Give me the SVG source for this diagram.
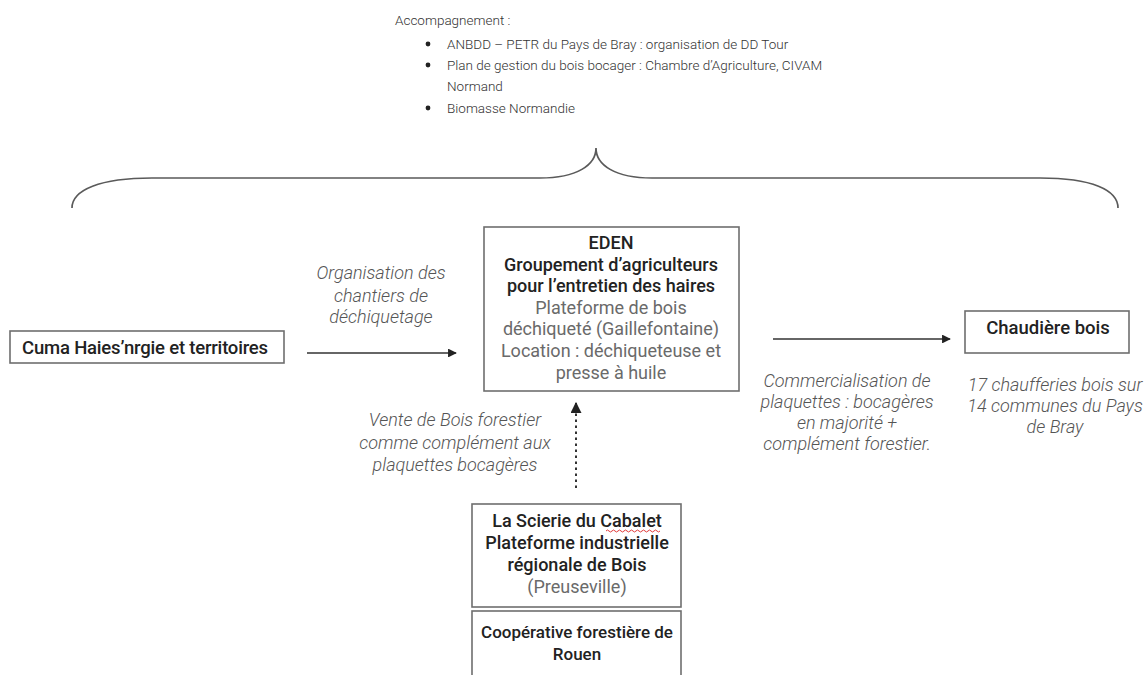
<svg xmlns="http://www.w3.org/2000/svg" width="1147" height="675" viewBox="0 0 1147 675">
  <style>
    text { font-family: Roboto, "Liberation Sans", sans-serif; }
    .box { fill: #ffffff; stroke: #6e6e6e; stroke-width: 1.6; }
    .strong { font-size: 18px; font-weight: 500; fill: #222222; text-anchor: middle; }
    .plain { font-size: 18px; font-weight: 400; fill: #6a6a6a; text-anchor: middle; }
    .note { font-size: 18px; font-weight: 300; font-style: italic; fill: #555555; text-anchor: middle; }
    .top { font-size: 13.5px; font-weight: 300; fill: #333333; }
    .link { fill: none; stroke: #333333; stroke-width: 1.6; }
    .dotted { stroke-dasharray: 2.5 3.5; stroke-width: 2; }
    .brace { fill: none; stroke: #5a5a5a; stroke-width: 1.7; }
  </style>
  <defs>
    <marker id="arrow" viewBox="0 0 10 10" refX="9" refY="5" markerWidth="5.5" markerHeight="5.5" orient="auto" markerUnits="strokeWidth">
      <path d="M0,0 L10,5 L0,10 z" fill="#222222"/>
    </marker>
  </defs>
  <rect width="1147" height="675" fill="#ffffff"/>

  <!-- support partners list -->
  <g id="accompagnement">
    <text class="top" x="395" y="25">Accompagnement :</text>
    <circle cx="428" cy="44" r="2.4" fill="#222222"/>
    <circle cx="428" cy="65" r="2.4" fill="#222222"/>
    <circle cx="428" cy="108" r="2.4" fill="#222222"/>
    <text class="top" x="447" y="49">ANBDD – PETR du Pays de Bray : organisation de DD Tour</text>
    <text class="top" x="447" y="70">Plan de gestion du bois bocager : Chambre d’Agriculture, CIVAM</text>
    <text class="top" x="447" y="91">Normand</text>
    <text class="top" x="447" y="113">Biomasse Normandie</text>
  </g>

  <!-- curly brace spanning the chain -->
  <path class="brace" d="M72,208 C72,190 100,178 152,178 L540,178 C577,178 596,165 596,148 C596,165 615,178 652,178 L1040,178 C1092,178 1118,190 1118,208"/>

  <g id="cuma">
    <rect class="box" x="10" y="331" width="274" height="32"/>
    <text class="strong" x="145" y="354" style="font-size:18.5px; letter-spacing:-0.2px">Cuma Haies’nrgie et territoires</text>
  </g>

  <g id="eden">
    <rect class="box" x="484" y="227" width="255" height="164"/>
    <text class="strong" x="611" y="249">EDEN</text>
    <text class="strong" x="611" y="271">Groupement d’agriculteurs</text>
    <text class="strong" x="611" y="292">pour l’entretien des haires</text>
    <text class="plain" x="611" y="314">Plateforme de bois</text>
    <text class="plain" x="611" y="335">déchiqueté (Gaillefontaine)</text>
    <text class="plain" x="611" y="357">Location : déchiqueteuse et</text>
    <text class="plain" x="611" y="379">presse à huile</text>
  </g>

  <g id="chaudiere">
    <rect class="box" x="965" y="311" width="164" height="42"/>
    <text class="strong" x="1048" y="334" style="font-size:18.5px">Chaudière bois</text>
    <text class="note" x="1055" y="391">17 chaufferies bois sur</text>
    <text class="note" x="1055" y="412">14 communes du Pays</text>
    <text class="note" x="1055" y="433">de Bray</text>
  </g>

  <g id="scierie">
    <rect class="box" x="472" y="504" width="209" height="103"/>
    <text class="strong" x="577" y="527">La Scierie du Cabalet</text>
    <path d="M606,531 q1.5,-2 3,0 t3,0 t3,0 t3,0 t3,0 t3,0 t3,0 t3,0 t3,0 t3,0 t3,0 t3,0 t3,0 t3,0 t3,0 t3,0 t3,0 t3,0" fill="none" stroke="#e03a3a" stroke-width="1"/>
    <text class="strong" x="577" y="549">Plateforme industrielle</text>
    <text class="strong" x="577" y="571">régionale de Bois</text>
    <text class="plain" x="577" y="593">(Preuseville)</text>
  </g>

  <g id="cooperative">
    <rect class="box" x="472" y="611" width="209" height="80"/>
    <text class="strong" x="577" y="638" style="font-size:17px">Coopérative forestière de</text>
    <text class="strong" x="577" y="660" style="font-size:17px">Rouen</text>
  </g>

  <g id="connectors">
    <line class="link" x1="307" y1="353" x2="456" y2="353" marker-end="url(#arrow)"/>
    <text class="note" x="381" y="279">Organisation des</text>
    <text class="note" x="381" y="302">chantiers de</text>
    <text class="note" x="381" y="323">déchiquetage</text>

    <line class="link" x1="773" y1="339" x2="950" y2="339" marker-end="url(#arrow)"/>
    <text class="note" x="847" y="387">Commercialisation de</text>
    <text class="note" x="847" y="408">plaquettes : bocagères</text>
    <text class="note" x="847" y="429">en majorité +</text>
    <text class="note" x="847" y="450">complément forestier.</text>

    <line class="link dotted" x1="576" y1="488" x2="576" y2="403" marker-end="url(#arrow)"/>
    <text class="note" x="455" y="426">Vente de Bois forestier</text>
    <text class="note" x="455" y="449">comme complément aux</text>
    <text class="note" x="455" y="471">plaquettes bocagères</text>
  </g>
</svg>
